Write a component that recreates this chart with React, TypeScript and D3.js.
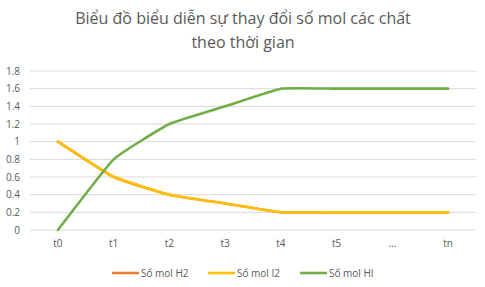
import React from "react";
import * as d3 from "d3";

const categories = ["t0", "t1", "t2", "t3", "t4", "t5", "...", "tn"];
const molH2 = [1, 0.6, 0.4, 0.3, 0.2, 0.2, 0.2, 0.2];
const molI2 = [1, 0.6, 0.4, 0.3, 0.2, 0.2, 0.2, 0.2];
const molHI = [0, 0.8, 1.2, 1.4, 1.6, 1.6, 1.6, 1.6];
const yTicks = [0, 0.2, 0.4, 0.6, 0.8, 1, 1.2, 1.4, 1.6, 1.8];
const seriesNames = ["Số mol H2", "Số mol I2", "Số mol HI"];
const titleLines = ["Biểu đồ biểu diễn sự thay đổi số mol các chất", "theo thời gian"];

const colors = ["#ED7D31", "#FFC000", "#70AD47"];
const font = "'Open Sans', 'Noto Sans', sans-serif";
const textColor = "#595959";

export default function App() {
  const W = 485, H = 287;
  const x = d3.scaleBand<string>().domain(categories).range([30, 476]);
  const y = d3.scaleLinear().domain([0, 1.8]).range([230, 71]);
  const cx = (c: string) => (x(c) as number) + x.bandwidth() / 2;
  const line = d3
    .line<number>()
    .x((_, i) => cx(categories[i]))
    .y((d) => y(d))
    .curve(d3.curveCardinal.tension(0.65));
  const data = [molH2, molI2, molHI];
  const legendX = [112, 208, 300];
  return (
    <svg width={W} height={H} style={{ position: "absolute", left: 0, top: 0, background: "#fff" }}>
      <rect width={W} height={H} fill="#fff" />
      {titleLines.map((t, i) => (
        <text key={i} x={243} y={24 + i * 24} textAnchor="middle" fontFamily={font} fontSize={16} fill={textColor}>
          {t}
        </text>
      ))}
      {yTicks.map((t) => (
        <g key={t}>
          <line x1={30} x2={476} y1={y(t)} y2={y(t)} stroke="#d9d9d9" strokeWidth={1} />
          <text x={20} y={y(t) + 3.5} textAnchor="end" fontFamily={font} fontSize={10} fill={textColor}>
            {String(t)}
          </text>
        </g>
      ))}
      {categories.map((c) => (
        <text key={c} x={cx(c)} y={247} textAnchor="middle" fontFamily={font} fontSize={10} fill={textColor}>
          {c}
        </text>
      ))}
      {data.map((d, i) => (
        <path key={i} d={line(d) as string} fill="none" stroke={colors[i]} strokeWidth={2.6} strokeLinecap="round" strokeLinejoin="round" />
      ))}
      {seriesNames.map((n, i) => (
        <g key={n}>
          <line x1={legendX[i]} x2={legendX[i] + 27} y1={273} y2={273} stroke={colors[i]} strokeWidth={2.6} />
          <text x={legendX[i] + 29} y={276.5} fontFamily={font} fontSize={10} fill={textColor}>
            {n}
          </text>
        </g>
      ))}
    </svg>
  );
}
